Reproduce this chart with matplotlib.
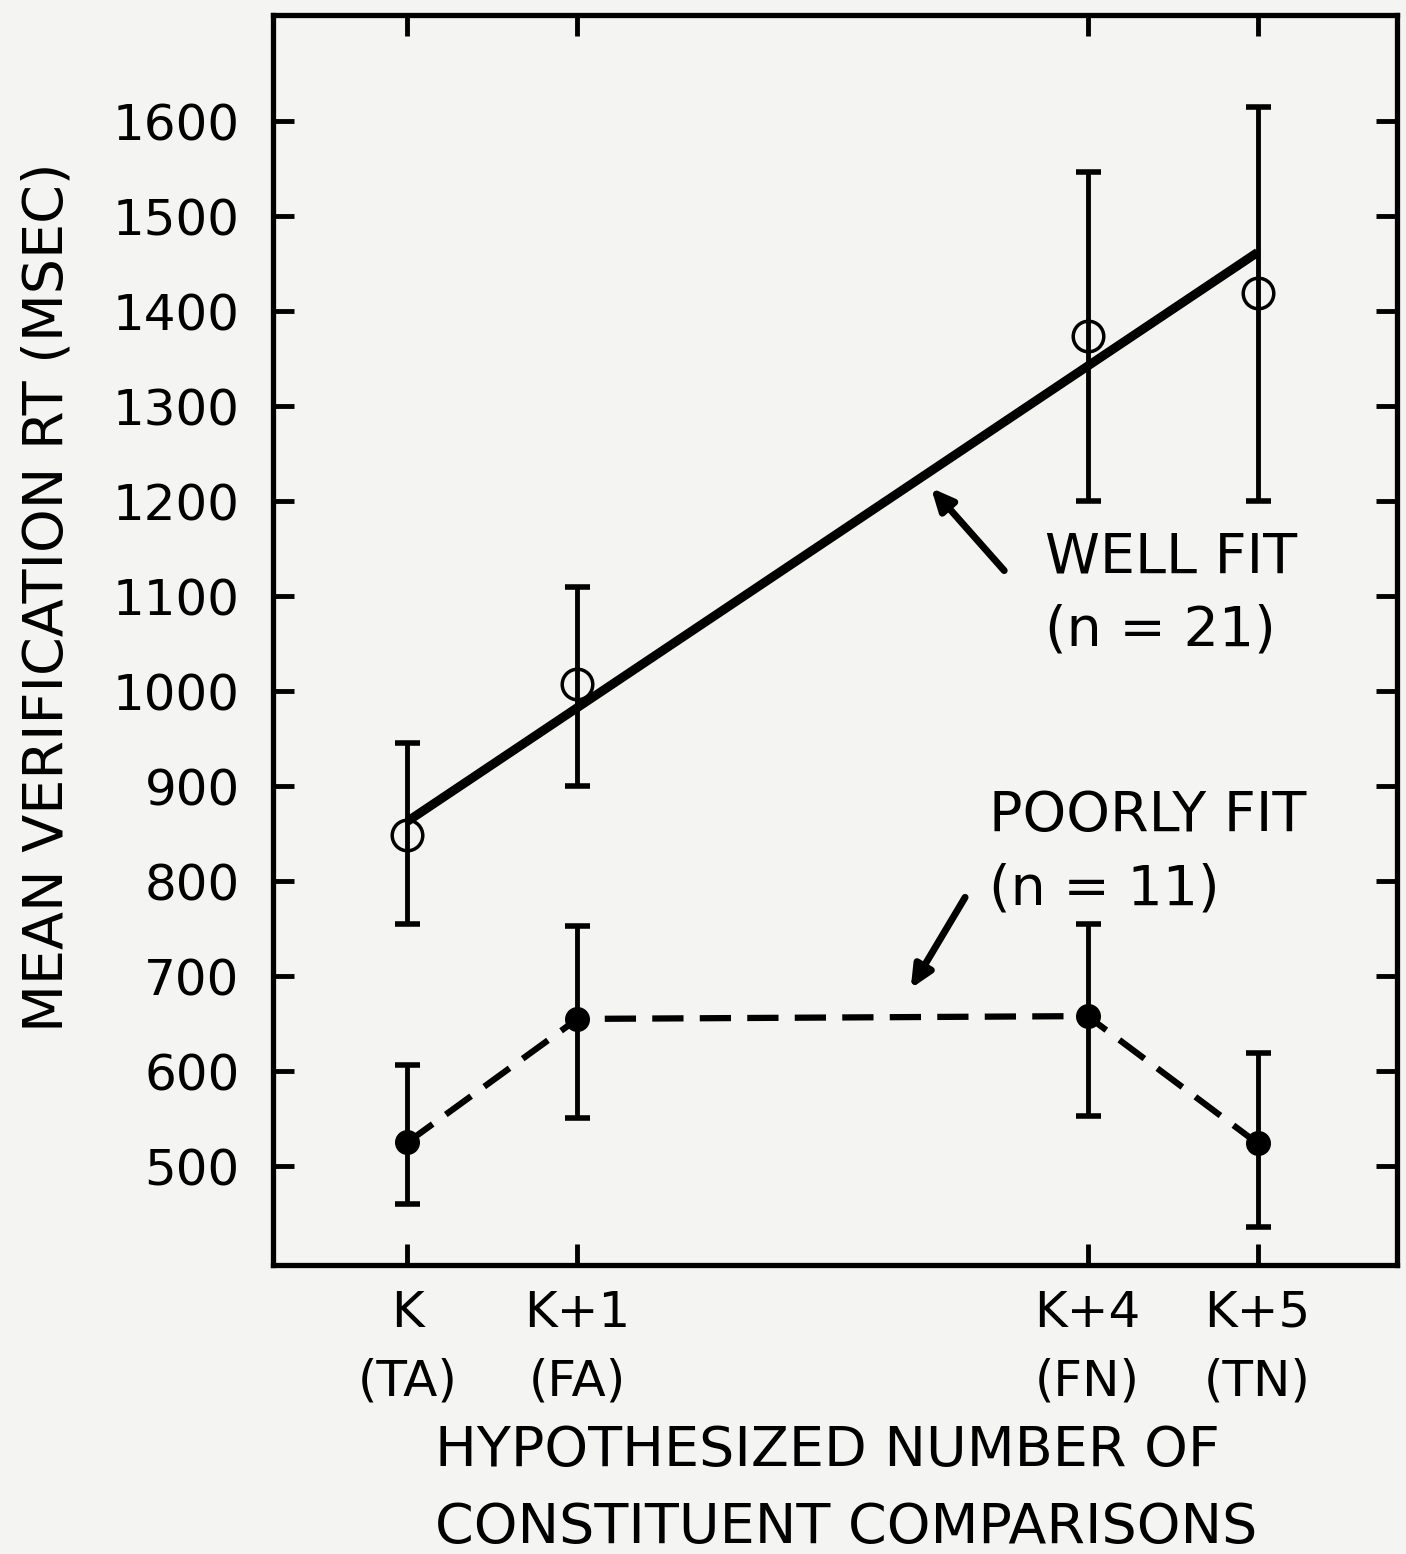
"""
Mean verification RT by hypothesized number of constituent comparisons
(well fit vs poorly fit subjects)
"""
import matplotlib
matplotlib.use('Agg')
import matplotlib.pyplot as plt

# x positions = extra comparisons beyond K
steps = [0, 1, 4, 5]
step_labels = ['K\n(TA)', 'K+1\n(FA)', 'K+4\n(FN)', 'K+5\n(TN)']

# well fit group (n = 21): means and error bar ends
well_rt = [849, 1008, 1374, 1419]
well_hi = [946, 1110, 1547, 1615]
well_lo = [755, 900, 1200, 1200]
# straight line drawn through the well fit means
well_line_x = [0, 5]
well_line_y = [863, 1462]

# poorly fit group (n = 11)
poor_rt = [525, 655, 658, 524]
poor_hi = [607, 753, 755, 619]
poor_lo = [460, 551, 553, 436]

y_ticks = [500, 600, 700, 800, 900, 1000, 1100, 1200, 1300, 1400, 1500, 1600]

paper = '#f4f4f2'
plt.rcParams['font.family'] = ['DejaVu Sans']

fig = plt.figure(figsize=(14.06, 15.54), dpi=100, facecolor=paper)
ax = fig.add_axes([0.1942, 0.1860, 0.7994, 0.8044], facecolor=paper)

# fitted line and dashed connection
ax.plot(well_line_x, well_line_y, color='black', lw=6.5, solid_capstyle='butt', zorder=2)
ax.plot(steps, poor_rt, color='black', lw=4.5, dashes=(5, 2.6), zorder=2)

# error bars
for rt, lo, hi in [(well_rt, well_lo, well_hi), (poor_rt, poor_lo, poor_hi)]:
    yerr = [[m - l for m, l in zip(rt, lo)], [h - m for m, h in zip(rt, hi)]]
    ax.errorbar(steps, rt, yerr=yerr, fmt='none', ecolor='black',
                elinewidth=3.5, capsize=9, capthick=4, zorder=3)

# markers
ax.plot(steps, well_rt, 'o', ms=22, mfc='none', mec='black', mew=2.5, zorder=4)
ax.plot(steps, poor_rt, 'o', ms=17, mfc='black', mec='black', zorder=4)

ax.set_xlim(-0.79, 5.82)
ax.set_ylim(396, 1712)

ax.set_xticks(steps)
ax.set_xticklabels(step_labels, fontsize=36, linespacing=1.55)
ax.set_yticks(y_ticks)
ax.set_yticklabels([str(v) for v in y_ticks], fontsize=36)

ax.tick_params(direction='in', length=15, width=3.5, top=True, right=True, color='black')
ax.tick_params(axis='x', pad=17)
ax.tick_params(axis='y', pad=24)
for sp in ax.spines.values():
    sp.set_linewidth(3.8)

ax.set_ylabel('MEAN VERIFICATION RT (MSEC)', fontsize=40)
ax.yaxis.set_label_coords(-0.177, 0.534)
ax.set_xlabel('HYPOTHESIZED NUMBER OF\nCONSTITUENT COMPARISONS', fontsize=40,
              linespacing=1.55, multialignment='left')
ax.xaxis.set_label_coords(0.51, -0.127)

# group labels with arrows
arrow = dict(arrowstyle='-|>,head_length=1.3,head_width=0.6', color='black', lw=5,
             shrinkA=0, shrinkB=0)
ax.annotate('', xy=(3.08, 1214), xytext=(3.51, 1127), arrowprops=arrow)
ax.annotate('', xy=(2.96, 687), xytext=(3.28, 783), arrowprops=arrow)
ax.text(3.75, 1102, 'WELL FIT\n(n = 21)', fontsize=40, ha='left', va='center', linespacing=1.45)
ax.text(3.42, 830, 'POORLY FIT\n(n = 11)', fontsize=40, ha='left', va='center', linespacing=1.45)

fig.savefig('out.png', dpi=100, facecolor=paper)
